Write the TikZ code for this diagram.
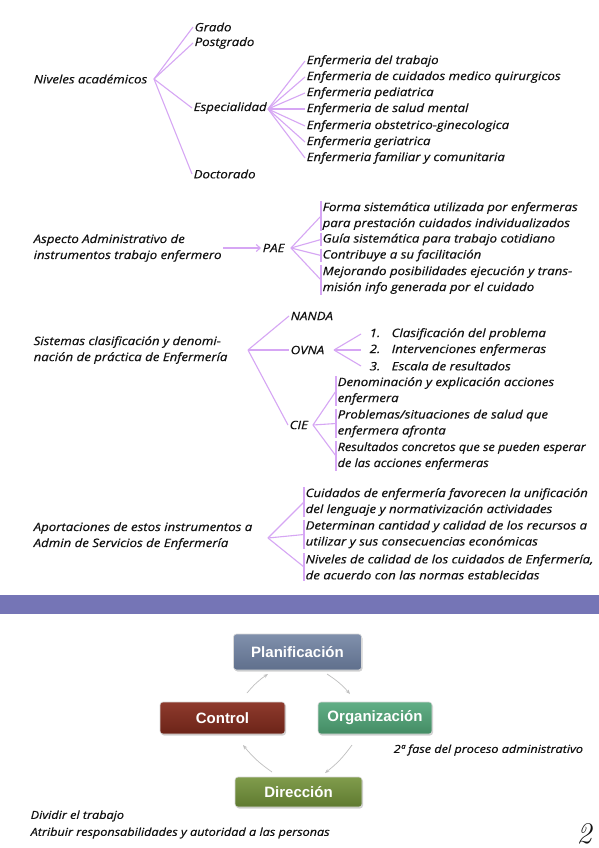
\documentclass[tikz,border=0pt]{standalone}
\usepackage{fontspec}
\setsansfont{Liberation Sans}
\newfontfamily\handf[FakeStretch=1.15,FakeBold=0.4]{Open Sans}
\newfontfamily\handn[FakeStretch=1.10,FakeBold=0.4]{Open Sans}
\usetikzlibrary{arrows.meta,shadows,calc}
\definecolor{brc}{HTML}{D6A6F4}
\definecolor{bandc}{HTML}{7575B6}
\definecolor{txt}{HTML}{111111}
\definecolor{plantop}{HTML}{8090AC}
\definecolor{planbot}{HTML}{5F6F8C}
\definecolor{ctrltop}{HTML}{8E3A2D}
\definecolor{ctrlbot}{HTML}{6C2418}
\definecolor{orgtop}{HTML}{62AE86}
\definecolor{orgbot}{HTML}{438C64}
\definecolor{dirtop}{HTML}{809C4C}
\definecolor{dirbot}{HTML}{5F7A30}
\tikzset{
  hand/.style={anchor=west, inner xsep=1.5pt, inner ysep=1pt, text=txt, align=left,
    font=\handf\itshape\fontsize{11.5}{16}\selectfont},
  brl/.style={draw=brc, line width=1.1pt},
  cbox/.style={rounded corners=3pt, text=white, draw=black!15, line width=0.6pt,
    font=\sffamily\bfseries\fontsize{15}{17}\selectfont,
    drop shadow={shadow xshift=1pt, shadow yshift=-1.5pt, opacity=0.35}},
  cyc/.style={-{Stealth[length=4.5pt,width=3.5pt]}, draw=black!25, line width=0.7pt},
}
\begin{document}
\begin{tikzpicture}[x=1pt,y=-1pt]
\useasboundingbox (0,0) rectangle (599,848);
\fill[white] (0,0) rectangle (599,848);
% ---------- Section 1
\node[hand] (niv) at (32,79) {Niveles académicos};
\coordinate (b1) at (154,79);
\node[hand] (grado) at (193,27) {Grado};
\node[hand] (post) at (193,43) {Postgrado};
\node[hand] (esp) at (192,108) {Especialidad};
\node[hand] (doc) at (192,174) {Doctorado};
\foreach \n in {grado,post,esp,doc} \draw[brl] (b1) -- (\n.west);
\coordinate (b2) at (268,109);
\node[hand] (e1) at (305,61)  {Enfermeria del trabajo};
\node[hand] (e2) at (305,77)  {Enfermeria de cuidados medico quirurgicos};
\node[hand] (e3) at (305,93)  {Enfermeria pediatrica};
\node[hand] (e4) at (305,109) {Enfermeria de salud mental};
\node[hand] (e5) at (305,126) {Enfermeria obstetrico-ginecologica};
\node[hand] (e6) at (305,142) {Enfermeria geriatrica};
\node[hand] (e7) at (305,158) {Enfermeria familiar y comunitaria};
\foreach \n in {e1,e2,e3,e4,e5,e6,e7} \draw[brl] (b2) -- (\n.west);
% ---------- Section 2
\node[hand] (asp) at (32,248) {Aspecto Administrativo de\\instrumentos trabajo enfermero};
\node[hand] (pae) at (261,248) {PAE};
\draw[brl,-{Straight Barb[length=4pt,width=7pt]}] (asp.east) -- (pae.west);
\coordinate (b3) at (291,248);
\node[hand] (p1) at (321,216) {Forma sistemática utilizada por enfermeras\\para prestación cuidados individualizados};
\node[hand] (p2) at (321,239.5) {Guía sistemática para trabajo cotidiano};
\node[hand] (p3) at (321,255.5) {Contribuye a su facilitación};
\node[hand] (p4) at (321,280) {Mejorando posibilidades ejecución y trans-\\misión info generada por el cuidado};
\foreach \n in {p1,p2,p3,p4} {\draw[brl] (b3) -- (\n.west); \draw[brl] (\n.north west) -- (\n.south west);}
% ---------- Section 3
\node[hand] (sis) at (32,350) {Sistemas clasificación y denomi-\\nación de práctica de Enfermería};
\coordinate (b4) at (248,350);
\node[hand] (nanda) at (289,316) {NANDA};
\node[hand] (ovna) at (289,350) {OVNA};
\node[hand] (cie) at (288,425) {CIE};
\foreach \n in {nanda,ovna,cie} \draw[brl] (b4) -- (\n.west);
\coordinate (b5) at (334,350);
\node[hand] (o1) at (361,334) {\hspace{7pt}\makebox[22pt][l]{1.}Clasificación del problema};
\node[hand] (o2) at (361,350) {\hspace{7pt}\makebox[22pt][l]{2.}Intervenciones enfermeras};
\node[hand] (o3) at (361,366) {\hspace{7pt}\makebox[22pt][l]{3.}Escala de resultados};
\foreach \n in {o1,o2,o3} \draw[brl] (b5) -- (\n.west);
\coordinate (b6) at (313,425);
\node[hand] (c1) at (336,391) {Denominación y explicación acciones\\enfermera};
\node[hand] (c2) at (336,423.5) {Problemas/situaciones de salud que\\enfermera afronta};
\node[hand, font=\handn\itshape\fontsize{11.5}{16}\selectfont] (c3) at (336,456) {Resultados concretos que se pueden esperar\\de las acciones enfermeras};
\foreach \n in {c1,c2,c3} {\draw[brl] (b6) -- (\n.west); \draw[brl] (\n.north west) -- (\n.south west);}
% ---------- Section 4
\node[hand] (apo) at (32,536) {Aportaciones de estos instrumentos a\\Admin de Servicios de Enfermería};
\coordinate (b7) at (268,538);
\node[hand] (a1) at (304,502) {Cuidados de enfermería favorecen la unificación\\del lenguaje y normativización actividades};
\node[hand] (a2) at (304,534.5) {Determinan cantidad y calidad de los recursos a\\utilizar y sus consecuencias económicas};
\node[hand] (a3) at (304,567) {Niveles de calidad de los cuidados de Enfermería,\\de acuerdo con las normas establecidas};
\foreach \n in {a1,a2,a3} {\draw[brl] (b7) -- (\n.west); \draw[brl] (\n.north west) -- (\n.south west);}
% ---------- Band
\fill[bandc] (0,595) rectangle (599,614);
% ---------- Cycle
\node[cbox, minimum width=128pt, minimum height=36pt, top color=plantop, bottom color=planbot] (plan) at (297.5,652) {Planificación};
\node[cbox, minimum width=125pt, minimum height=32pt, top color=ctrltop, bottom color=ctrlbot] (ctrl) at (222.5,718) {Control};
\node[cbox, minimum width=114pt, minimum height=32pt, top color=orgtop, bottom color=orgbot] (org) at (375,718) {Organización};
\node[cbox, minimum width=127pt, minimum height=30pt, top color=dirtop, bottom color=dirbot] (dir) at (298.5,792) {Dirección};
\coordinate (k1) at (247,693); \coordinate (k2) at (268,674);
\coordinate (k3) at (327,674); \coordinate (k4) at (350,694);
\coordinate (k5) at (352,745); \coordinate (k6) at (325,773);
\coordinate (k7) at (272,772); \coordinate (k8) at (243,745);
\draw[cyc] (k1) to[bend left=8] (k2);
\draw[cyc] (k3) to[bend left=8] (k4);
\draw[cyc] (k5) to[bend left=8] (k6);
\draw[cyc] (k7) to[bend left=8] (k8);
\node[hand, font=\handf\itshape\fontsize{11}{14}\selectfont] (fase) at (392,750) {2ª fase del proceso administrativo};
\node[hand, font=\handf\itshape\fontsize{11}{17}\selectfont] (div) at (29,824.5) {Dividir el trabajo\\Atribuir responsabilidades y autoridad a las personas};
\node[hand, font=\itshape\fontsize{30}{30}\selectfont] (pg) at (575,834) {2};
\end{tikzpicture}
\end{document}
